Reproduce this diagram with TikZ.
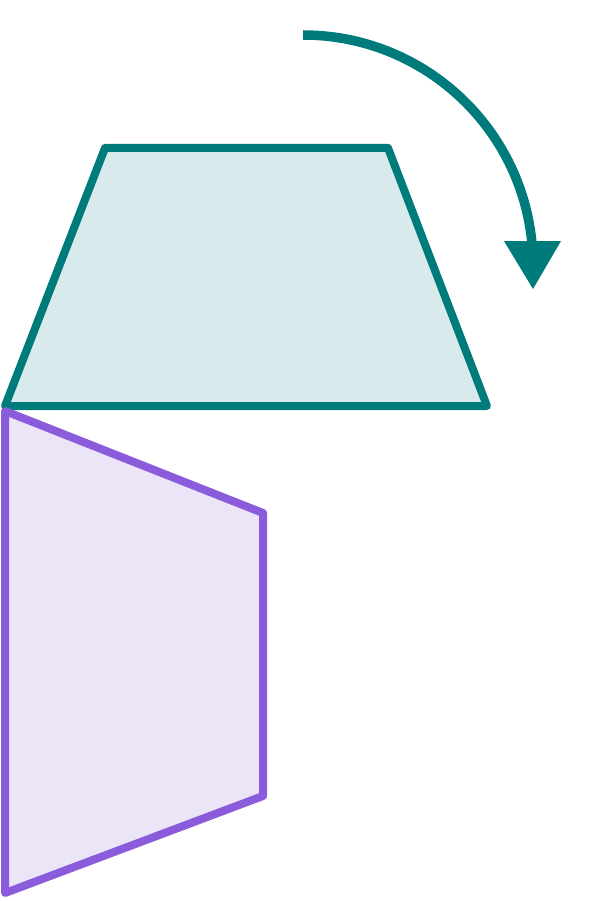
\documentclass[tikz,border=0pt]{standalone}
\usepackage{tikz}
\usepackage{xcolor}
\usetikzlibrary{arrows.meta,calc}
\definecolor{tealline}{RGB}{0,123,123}
\definecolor{tealfill}{RGB}{217,234,236}
\definecolor{purpleline}{RGB}{138,92,220}
\definecolor{purplefill}{RGB}{236,229,247}
\begin{document}
\begin{tikzpicture}[line cap=round,line join=round,x=1pt,y=-1pt,
                shapeA/.style={line width=8pt,draw=tealline,fill=tealfill},
                shapeB/.style={line width=8pt,draw=purpleline,fill=purplefill}]
                \useasboundingbox (0,0) rectangle (613,901);
                \draw [shapeA] (5,406) -- (105,148) -- (388,148) -- (487,406) -- cycle;
                \draw [shapeB] (5,411) -- (263,513) -- (263,796) -- (5,893) -- cycle;
                \draw [line width=9.5pt,color=tealline,line cap=butt] (303,35) arc[start angle=-90,end angle=-5,radius=230];
                \fill [color=tealline] (504,241) -- (561,241) -- (533,289) -- cycle;
            \end{tikzpicture}
\end{document}
